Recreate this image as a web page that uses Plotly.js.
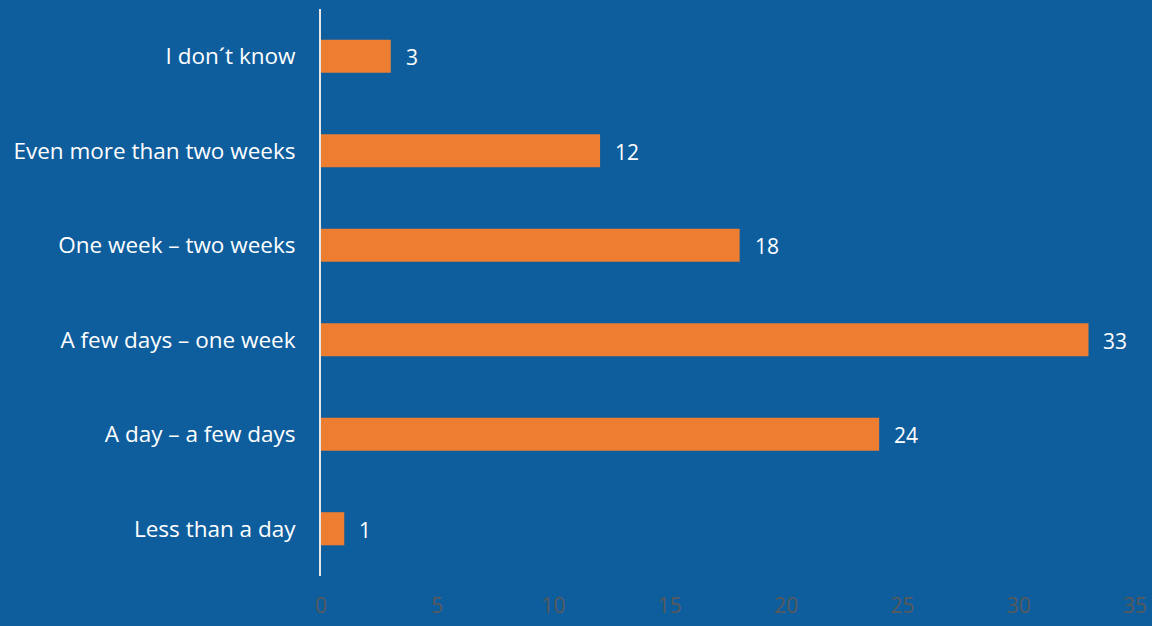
<!DOCTYPE html>
<html>
<head>
<meta charset="utf-8">
<script src="https://cdn.plot.ly/plotly-3.0.1.min.js"></script>
<style>html,body{margin:0;padding:0;background:#0E5E9E;}#chart{width:1152px;height:626px;}</style>
</head>
<body>
<div id="chart"></div>
<script>
const categories = ["Less than a day", "A day – a few days", "A few days – one week", "One week – two weeks", "Even more than two weeks", "I don´t know"];
const values = [1, 24, 33, 18, 12, 3];
const xTicks = [0, 5, 10, 15, 20, 25, 30, 35];

const bg = "#0E5E9E";
const fontFam = "'Open Sans', 'Noto Sans', sans-serif";

const trace = {
  type: "bar",
  orientation: "h",
  y: categories,
  x: values,
  marker: {color: "#ED7D31"},
  hoverinfo: "none"
};

const annotations = categories.map((c, i) => ({
  x: values[i], y: c, xref: "x", yref: "y",
  text: String(values[i]), showarrow: false,
  xanchor: "left", yanchor: "middle", xshift: 13, yshift: -1,
  font: {family: fontFam, size: 21, color: "#FFFFFF"}
}));

const layout = {
  width: 1152, height: 626,
  paper_bgcolor: bg, plot_bgcolor: bg,
  margin: {l: 321, r: 17, t: 9, b: 50},
  bargap: 0.65,
  showlegend: false,
  font: {family: fontFam},
  xaxis: {
    range: [0, 35], tickvals: xTicks, ticktext: xTicks.map(String),
    showgrid: false, zeroline: false, showline: false,
    ticks: "", ticklabelstandoff: 15,
    tickfont: {family: fontFam, size: 21, color: "#595959"}
  },
  yaxis: {
    type: "category", categoryorder: "array", categoryarray: categories,
    showgrid: false, zeroline: false,
    showline: true, linecolor: "#E6E6E6", linewidth: 2,
    ticks: "", ticklabelstandoff: 19,
    tickfont: {family: fontFam, size: 22.5, color: "#FFFFFF"}
  },
  annotations: annotations
};

Plotly.newPlot("chart", [trace], layout, {displayModeBar: false, staticPlot: true});
</script>
</body>
</html>
